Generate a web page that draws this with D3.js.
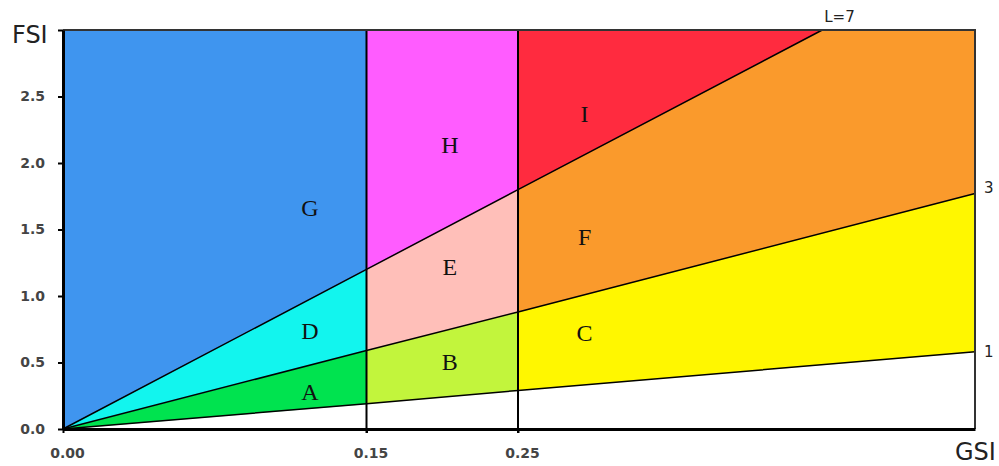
<!DOCTYPE html>
<html>
<head>
<meta charset="utf-8">
<script src="https://cdn.jsdelivr.net/npm/d3@7"></script>
<style>
body { margin: 0; background: #fff; }
</style>
</head>
<body>
<svg id="chart" width="999" height="466"></svg>
<script>
// GSI class borders and the FSI of each L line read at those borders
var gsiBreaks = [0, 0.15, 0.25, 0.6];
var fsiL1 = [0, 0.19, 0.29, 0.58];
var fsiL3 = [0, 0.59, 0.88, 1.77];
// L=7 leaves the chart through the top
var gsiL7 = [0, 0.15, 0.25, 0.483];
var fsiL7 = [0, 1.20, 1.80, 3.0];

var fsiTicks = [0, 0.5, 1.0, 1.5, 2.0, 2.5, 3.0];
var gsiTicks = [0, 0.15, 0.25];

// regions row by row (low L to high L), left to right
var regionNames = ["A", "B", "C", "D", "E", "F", "G", "H", "I"];
var regionColors = ["#00e34f", "#c2f53c", "#fff700", "#12f5ee", "#ffbfb9", "#fa9a2c", "#3f95ef", "#ff5cff", "#ff2b3f"];
var labelGsi = [0.122, 0.205, 0.301];
var labelFsi = [0.28, 0.51, 0.73, 0.74, 1.22, 1.45, 1.67, 2.14, 2.37];

var svg = d3.select("#chart");

var xScale = d3.scaleLinear()
    .domain(gsiBreaks)
    .range([63, 366.5, 518, 975]);

var yScale = d3.scaleLinear()
    .domain([0, 3])
    .range([429, 30]);

// each line as a function of GSI
var lineL1 = d3.scaleLinear().domain(gsiBreaks).range(fsiL1);
var lineL3 = d3.scaleLinear().domain(gsiBreaks).range(fsiL3);
var lineL7 = d3.scaleLinear().domain(gsiL7).range(fsiL7).clamp(true);
var bands = [function () { return 0; }, lineL1, lineL3, lineL7, function () { return 3; }];

var allBreaks = Array.from(new Set(gsiBreaks.concat(gsiL7))).sort(d3.ascending);

var regions = [];
regionNames.forEach(function (name, i) {
    var row = Math.floor(i / 3) + 1;
    var col = i % 3;
    var a = gsiBreaks[col], b = gsiBreaks[col + 1];
    var pts = allBreaks.filter(function (g) { return g >= a && g <= b; });
    var lower = bands[row], upper = bands[row + 1];
    var poly = pts.map(function (g) { return [xScale(g), yScale(lower(g))]; })
        .concat(pts.slice().reverse().map(function (g) { return [xScale(g), yScale(upper(g))]; }));
    regions.push({ name: name, color: regionColors[i], poly: poly, gx: labelGsi[col], fy: labelFsi[i] });
});

svg.selectAll("polygon.region")
    .data(regions)
    .enter()
    .append("polygon")
    .attr("class", "region")
    .attr("points", function (d) { return d.poly.join(" "); })
    .attr("fill", function (d) { return d.color; })
    .attr("stroke", function (d) { return d.color; })
    .attr("stroke-width", 0.5);

// vertical class borders
svg.selectAll("line.vert")
    .data(gsiBreaks.slice(1, 3))
    .enter()
    .append("line")
    .attr("x1", function (d) { return xScale(d); })
    .attr("x2", function (d) { return xScale(d); })
    .attr("y1", yScale(3))
    .attr("y2", yScale(0) + 4)
    .attr("stroke", "#000")
    .attr("stroke-width", 2);

// L lines
var lineGen = d3.line()
    .x(function (d) { return xScale(d[0]); })
    .y(function (d) { return yScale(d[1]); });

var lineData = [
    d3.zip(gsiBreaks, fsiL1),
    d3.zip(gsiBreaks, fsiL3),
    d3.zip(gsiL7, fsiL7)
];

svg.selectAll("path.lline")
    .data(lineData)
    .enter()
    .append("path")
    .attr("class", "lline")
    .attr("d", lineGen)
    .attr("fill", "none")
    .attr("stroke", "#000")
    .attr("stroke-width", 1.5);

// frame top and right
svg.append("path")
    .attr("d", "M" + xScale(0) + "," + yScale(3) + "H" + xScale(0.6) + "V" + yScale(0))
    .attr("fill", "none")
    .attr("stroke", "#333")
    .attr("stroke-width", 2);

// region letters
svg.selectAll("text.region")
    .data(regions)
    .enter()
    .append("text")
    .attr("class", "region")
    .attr("x", function (d) { return xScale(d.gx); })
    .attr("y", function (d) { return yScale(d.fy); })
    .attr("dy", "0.36em")
    .attr("text-anchor", "middle")
    .attr("font-family", "'Liberation Serif', serif")
    .attr("font-size", 24)
    .attr("fill", "#111")
    .text(function (d) { return d.name; });

// line labels
var lineLabels = [
    { t: "1", x: xScale(0.6) + 9, y: yScale(fsiL1[3]), a: "start" },
    { t: "3", x: xScale(0.6) + 9, y: yScale(fsiL3[3]) - 6, a: "start" },
    { t: "L=7", x: xScale(gsiL7[3]) + 2, y: yScale(3) - 13, a: "start" }
];
svg.selectAll("text.llabel")
    .data(lineLabels)
    .enter()
    .append("text")
    .attr("class", "llabel")
    .attr("x", function (d) { return d.x; })
    .attr("y", function (d) { return d.y; })
    .attr("dy", "0.36em")
    .attr("text-anchor", function (d) { return d.a; })
    .attr("font-family", "'DejaVu Sans', sans-serif")
    .attr("font-size", 15)
    .attr("fill", "#222")
    .text(function (d) { return d.t; });

// axes (FSI title stands in for the 3.0 label)
var yAxis = d3.axisLeft(yScale)
    .tickValues(fsiTicks)
    .tickFormat(function (d) { return d === 3 ? "" : d3.format(".1f")(d); })
    .tickSizeInner(5)
    .tickSizeOuter(0)
    .tickPadding(13);

var gy = svg.append("g")
    .attr("transform", "translate(" + xScale(0) + ",0)")
    .call(yAxis);

var xAxis = d3.axisBottom(xScale)
    .tickValues(gsiTicks)
    .tickFormat(d3.format(".2f"))
    .tickSizeInner(4)
    .tickSizeOuter(0)
    .tickPadding(15);

var gx = svg.append("g")
    .attr("transform", "translate(0," + yScale(0) + ")")
    .call(xAxis);

[gx, gy].forEach(function (g) {
    g.select(".domain").attr("stroke", "#000").attr("stroke-width", 3);
    g.selectAll(".tick line").attr("stroke", "#000").attr("stroke-width", 2);
    g.selectAll(".tick text")
        .attr("font-family", "'DejaVu Sans', sans-serif")
        .attr("font-size", 14)
        .attr("font-weight", "bold")
        .attr("fill", "#444");
});
gx.selectAll(".tick text").attr("dx", 4);

// axis titles
svg.append("text")
    .attr("x", 12)
    .attr("y", 43)
    .attr("font-family", "'DejaVu Sans', sans-serif")
    .attr("font-size", 24)
    .attr("fill", "#222")
    .text("FSI");

svg.append("text")
    .attr("x", 955)
    .attr("y", 460)
    .attr("font-family", "'DejaVu Sans', sans-serif")
    .attr("font-size", 24)
    .attr("fill", "#222")
    .text("GSI");
</script>
</body>
</html>
